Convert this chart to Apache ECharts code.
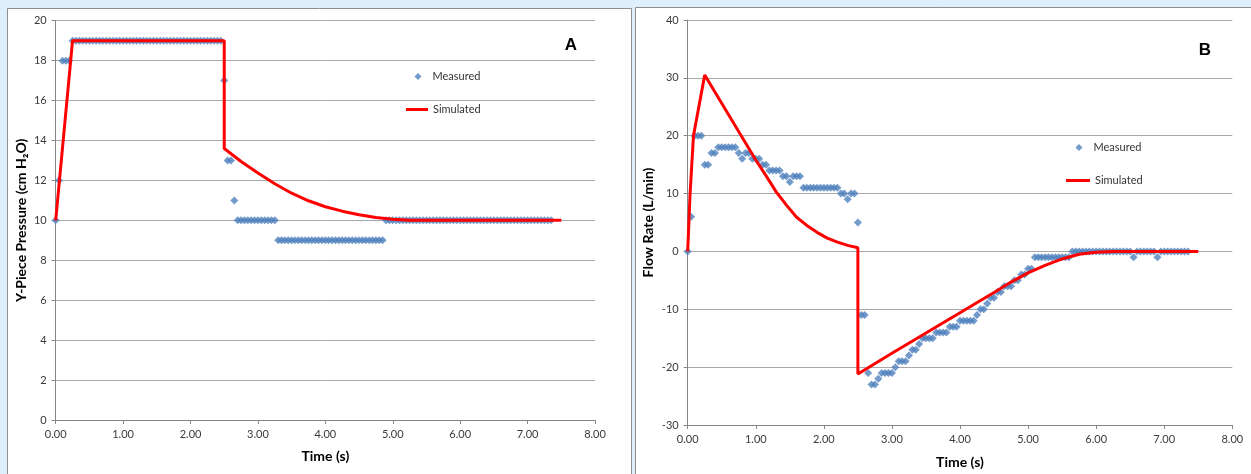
<!DOCTYPE html>
<html>
<head>
<meta charset="utf-8">
<script src="https://cdn.jsdelivr.net/npm/echarts@6/dist/echarts.min.js"></script>
<style>html,body{margin:0;padding:0;background:#deeefa;}#c{width:1251px;height:474px;}</style>
</head>
<body>
<div id="c"></div>
<script>
// ---- data ----
var sampleTimes = [0,0.05,0.1,0.15,0.2,0.25,0.3,0.35,0.4,0.45,0.5,0.55,0.6,0.65,0.7,0.75,0.8,0.85,0.9,0.95,
1,1.05,1.1,1.15,1.2,1.25,1.3,1.35,1.4,1.45,1.5,1.55,1.6,1.65,1.7,1.75,1.8,1.85,1.9,1.95,
2,2.05,2.1,2.15,2.2,2.25,2.3,2.35,2.4,2.45,2.5,2.55,2.6,2.65,2.7,2.75,2.8,2.85,2.9,2.95,
3,3.05,3.1,3.15,3.2,3.25,3.3,3.35,3.4,3.45,3.5,3.55,3.6,3.65,3.7,3.75,3.8,3.85,3.9,3.95,
4,4.05,4.1,4.15,4.2,4.25,4.3,4.35,4.4,4.45,4.5,4.55,4.6,4.65,4.7,4.75,4.8,4.85,4.9,4.95,
5,5.05,5.1,5.15,5.2,5.25,5.3,5.35,5.4,5.45,5.5,5.55,5.6,5.65,5.7,5.75,5.8,5.85,5.9,5.95,
6,6.05,6.1,6.15,6.2,6.25,6.3,6.35,6.4,6.45,6.5,6.55,6.6,6.65,6.7,6.75,6.8,6.85,6.9,6.95,
7,7.05,7.1,7.15,7.2,7.25,7.3,7.35];

var measuredPressure = [10,12,18,18,18,19,19,19,19,19,19,19,19,19,19,19,19,19,19,19,
19,19,19,19,19,19,19,19,19,19,19,19,19,19,19,19,19,19,19,19,
19,19,19,19,19,19,19,19,19,19,17,13,13,11,10,10,10,10,10,10,
10,10,10,10,10,10,9,9,9,9,9,9,9,9,9,9,9,9,9,9,
9,9,9,9,9,9,9,9,9,9,9,9,9,9,9,9,9,9,10,10,
10,10,10,10,10,10,10,10,10,10,10,10,10,10,10,10,10,10,10,10,
10,10,10,10,10,10,10,10,10,10,10,10,10,10,10,10,10,10,10,10,
10,10,10,10,10,10,10,10];

var measuredFlow = [0,6,20,20,20,15,15,17,17,18,18,18,18,18,18,17,16,17,17,16,
16,16,15,15,14,14,14,14,13,13,12,13,13,13,11,11,11,11,11,11,
11,11,11,11,11,10,10,9,10,10,5,-11,-11,-21,-23,-23,-22,-21,-21,-21,
-21,-20,-19,-19,-19,-18,-17,-17,-16,-15,-15,-15,-15,-14,-14,-14,-14,-13,-13,-13,
-12,-12,-12,-12,-12,-11,-10,-10,-9,-8,-8,-7,-7,-6,-6,-6,-5,-5,-4,-4,
-3,-3,-1,-1,-1,-1,-1,-1,-1,-1,-1,-1,-1,0,0,0,0,0,0,0,
0,0,0,0,0,0,0,0,0,0,0,-1,0,0,0,0,0,0,-1,0,
0,0,0,0,0,0,0,0];

var simTimeA = [0,0.25,2.5,2.5,2.75,3.0,3.25,3.5,3.75,4.0,4.25,4.5,4.75,5.0,5.25,7.5];
var simPressure = [10,19,19,13.6,12.95,12.37,11.83,11.36,10.98,10.68,10.46,10.28,10.14,10.05,10,10];

var simTimeB = [0,0.035,0.085,0.25,1.0,1.15,1.3,1.45,1.6,1.75,1.9,2.05,2.2,2.35,2.5,2.5,3.0,3.5,4.0,4.5,4.75,5.0,5.25,5.5,5.75,6.0,6.25,7.5];
var simFlow = [0,10,20,30.5,15.8,13.1,10.3,8.0,5.9,4.5,3.3,2.3,1.6,1.05,0.65,-21.2,-17.6,-14.1,-10.6,-7.1,-5.3,-3.7,-2.4,-1.3,-0.5,-0.15,0,0];

var xTicks = {min:0, max:8, interval:1};
var yTicksA = {min:0, max:20, interval:2};
var yTicksB = {min:-30, max:40, interval:10};

// ---- build ----
function pairs(xs, ys){ return xs.map(function(x,i){ return [x, ys[i]]; }); }

var FONT = 'Lato';
var labelStyle = {color:'#3a3a3a', fontSize:11, fontFamily:FONT};
var nameStyle = {color:'#000', fontSize:14, fontWeight:'bold', fontFamily:FONT};
var axisLine = {show:true, onZero:false, lineStyle:{color:'#868686', width:1}};
var axisTick = {show:true, length:4, lineStyle:{color:'#868686'}};
var split = {show:true, lineStyle:{color:'#a8a8a8', width:1}};

function xAxis(gi, gap){
  return {type:'value', gridIndex:gi, min:xTicks.min, max:xTicks.max, interval:xTicks.interval,
    axisLine:axisLine, axisTick:axisTick, splitLine:{show:false},
    axisLabel:Object.assign({margin:9, formatter:function(v){return v.toFixed(2);}}, labelStyle),
    name:'Time (s)', nameLocation:'middle', nameGap:gap, nameTextStyle:nameStyle};
}
function yAxis(gi, t, name, gap){
  return {type:'value', gridIndex:gi, min:t.min, max:t.max, interval:t.interval,
    axisLine:axisLine, axisTick:axisTick, splitLine:split,
    axisLabel:Object.assign({margin:9}, labelStyle),
    name:name, nameLocation:'middle', nameGap:gap, nameTextStyle:nameStyle};
}

var chart = echarts.init(document.getElementById('c'), null, {renderer:'canvas'});
chart.setOption({
  backgroundColor:'#deeefa',
  animation:false,
  graphic:[
    {type:'rect', z:-100, shape:{x:7.5, y:8.5, width:624, height:480}, style:{fill:'#ffffff', stroke:'#8e8e8e', lineWidth:1}},
    {type:'rect', z:-100, shape:{x:635.5, y:7.5, width:630, height:480}, style:{fill:'#ffffff', stroke:'#8e8e8e', lineWidth:1}},
    {type:'text', z:10, x:571, y:45, style:{text:'A', font:'bold 17px Liberation Sans', fill:'#000', align:'center', verticalAlign:'middle'}},
    {type:'text', z:10, x:1205, y:50, style:{text:'B', font:'bold 17px Liberation Sans', fill:'#000', align:'center', verticalAlign:'middle'}}
  ],
  grid:[
    {left:55.7, right:656, top:20.7, bottom:54},
    {left:687.7, right:18.7, top:20, bottom:49}
  ],
  xAxis:[xAxis(0, 29), xAxis(1, 30)],
  yAxis:[yAxis(0, yTicksA, 'Y-Piece Pressure (cm H\u2082O)', 27), yAxis(1, yTicksB, 'Flow Rate (L/min)', 32)],
  legend:[
    {left:414.5, top:71, padding:0, itemWidth:7, itemHeight:7, icon:'diamond', data:[{name:'Measured'}], textStyle:{color:'#333', fontSize:11, fontFamily:FONT, padding:[0,0,0,6]}, selectedMode:false},
    {left:406, top:104, padding:0, itemWidth:22, itemHeight:3, icon:'rect', data:[{name:'Simulated'}], textStyle:{color:'#333', fontSize:11, fontFamily:FONT}, selectedMode:false},
    {left:1075.5, top:142, padding:0, itemWidth:7, itemHeight:7, icon:'diamond', data:[{name:'Measured'}], textStyle:{color:'#333', fontSize:11, fontFamily:FONT, padding:[0,0,0,6]}, selectedMode:false},
    {left:1066, top:175, padding:0, itemWidth:24, itemHeight:3, icon:'rect', data:[{name:'Simulated'}], textStyle:{color:'#333', fontSize:11, fontFamily:FONT}, selectedMode:false}
  ],
  series:[
    {name:'Measured', type:'scatter', xAxisIndex:0, yAxisIndex:0, symbol:'diamond', symbolSize:8,
      itemStyle:{color:'#4f81bd'}, data:pairs(sampleTimes, measuredPressure)},
    {name:'Simulated', type:'line', xAxisIndex:0, yAxisIndex:0, showSymbol:false, symbol:'none',
      lineStyle:{color:'#ff0000', width:3}, itemStyle:{color:'#ff0000'}, data:pairs(simTimeA, simPressure)},
    {name:'Measured', type:'scatter', xAxisIndex:1, yAxisIndex:1, symbol:'diamond', symbolSize:8,
      itemStyle:{color:'#4f81bd'}, data:pairs(sampleTimes, measuredFlow)},
    {name:'Simulated', type:'line', xAxisIndex:1, yAxisIndex:1, showSymbol:false, symbol:'none',
      lineStyle:{color:'#ff0000', width:3}, itemStyle:{color:'#ff0000'}, data:pairs(simTimeB, simFlow)}
  ]
});
</script>
</body>
</html>
